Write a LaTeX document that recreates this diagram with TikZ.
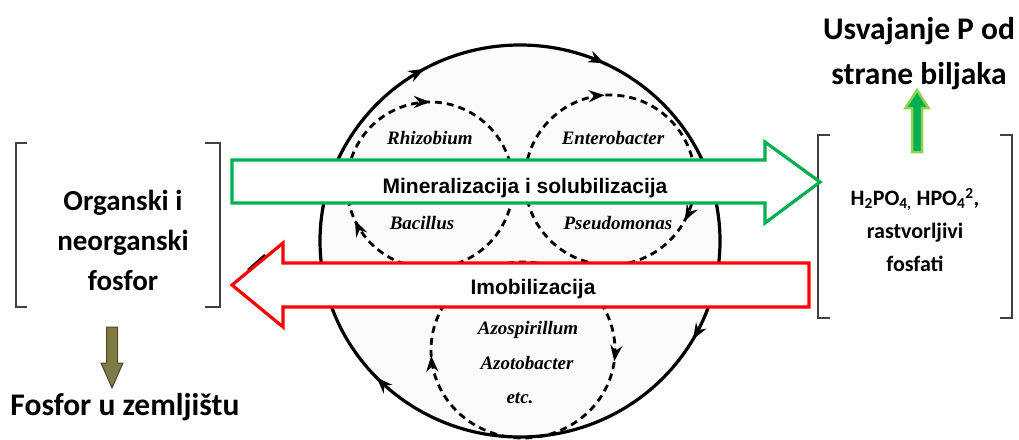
\documentclass[tikz,border=0pt]{standalone}
\usepackage{fontspec}
\setmainfont{Carlito}
\newfontfamily\arialfont{Liberation Sans}
\newfontfamily\timesfont{Liberation Serif}
\usetikzlibrary{decorations.markings,arrows.meta}
\definecolor{flowgreen}{RGB}{0,176,80}
\definecolor{paleGreen}{RGB}{146,208,80}
\definecolor{soilbrown}{RGB}{128,122,72}
\definecolor{brackgray}{RGB}{64,64,64}

\tikzset{
  bracket/.style={brackgray, line width=2.4pt},
  microbe/.style={font=\timesfont\bfseries\itshape\fontsize{19}{22}\selectfont},
  pooltext/.style={font=\bfseries\fontsize{29}{40}\selectfont, align=center},
  headtext/.style={font=\bfseries\fontsize{31.5}{45}\selectfont, align=center},
  flowtext/.style={font=\arialfont\bfseries\fontsize{21}{25}\selectfont, anchor=base},
  ring/.style={line width=3.2pt},
  dring/.style={line width=2.8pt, dash pattern=on 7pt off 5pt},
  tick at/.style={postaction={decorate,decoration={markings,
      mark=at position #1 with {\arrow{Stealth[length=16pt,width=12pt]}}}}},
  blockarrow/.style={line width=3.2pt, fill=white, line join=miter}
}

\begin{document}
\begin{tikzpicture}[x=1pt,y=-1pt]
  \useasboundingbox (0,0) rectangle (1019,439);

  % microbial cycle
  \draw[ring, fill=gray!3, tick at=0.083, tick at=0.378, tick at=0.67, tick at=0.82]
    (520,241) ellipse [x radius=200, y radius=196];
  \draw[dring, tick at=0.43, tick at=0.75] (430,185) ellipse [x radius=83, y radius=83];
  \draw[dring, tick at=0.08, tick at=0.74] (610,180) ellipse [x radius=85, y radius=85];
  \draw[dring, tick at=0.02, tick at=0.49] (523,350) ellipse [x radius=92, y radius=88];
  \draw[line width=2.5pt] (248,270) -- (265,255);

  \node[microbe] (rhiz) at (430,138) {Rhizobium};
  \node[microbe] (entero) at (613,138) {Enterobacter};
  \node[microbe] (bac) at (422,223) {Bacillus};
  \node[microbe] (pseudo) at (618,223) {Pseudomonas};
  \node[microbe] (azosp) at (528,330) {Azospirillum};
  \node[microbe] (azoto) at (527,363) {Azotobacter};
  \node[microbe] (etc) at (520,398) {etc.};

  % phosphorus pools
  \node[pooltext] (org) at (123,240) {Organski i\\neorganski\\fosfor};
  \draw[bracket] (27,143) -- (16,143) -- (16,307) -- (27,307);
  \draw[bracket] (205,143) -- (220,143) -- (220,307) -- (205,307);

  \node[pooltext, font=\bfseries\fontsize{22}{33}\selectfont] (sol) at (915,230)
    {H\textsubscript{2}PO\textsubscript{4,} HPO\textsubscript{4}\textsuperscript{2},\\rastvorljivi\\fosfati};
  \draw[bracket] (830,135) -- (818,135) -- (818,318) -- (830,318);
  \draw[bracket] (1000,135) -- (1012,135) -- (1012,318) -- (1000,318);

  \node[headtext] (plant) at (919,54) {Usvajanje P od\\strane biljaka};
  \node[headtext] (soil) at (125,407) {Fosfor u zemljištu};

  % flows
  \draw[blockarrow, draw=flowgreen] (232,160) -- (765,160) -- (765,142) -- (820,182)
    -- (765,223) -- (765,203) -- (232,203) -- cycle;
  \node[flowtext] (miner) at (525,193) {Mineralizacija i solubilizacija};

  \draw[blockarrow, draw=red] (232,285) -- (283,243) -- (283,263) -- (809,263)
    -- (809,307) -- (283,307) -- (283,327) -- cycle;
  \node[flowtext] (imob) at (533,294) {Imobilizacija};

  \draw[line width=2.5pt, paleGreen, fill=flowgreen, line join=miter]
    (912,152) -- (912,108) -- (905.5,108) -- (917,90) -- (928.5,108) -- (922,108)
    -- (922,152) -- cycle;
  \draw[line width=1pt, soilbrown!60!black, fill=soilbrown, line join=miter]
    (106.5,327) -- (117.5,327) -- (117.5,363) -- (123,363) -- (112,388) -- (101,363)
    -- (106.5,363) -- cycle;
\end{tikzpicture}
\end{document}
